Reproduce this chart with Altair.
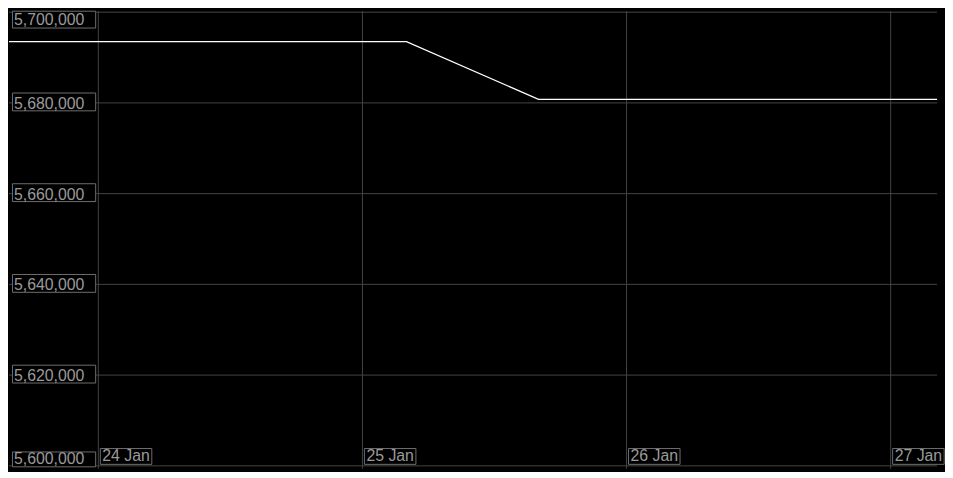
import altair as alt
import pandas as pd

# ---- data ----
times = [
    "2024-01-23T15:50:00Z",
    "2024-01-24T04:00:00Z",
    "2024-01-24T16:00:00Z",
    "2024-01-25T04:00:00Z",
    "2024-01-25T16:00:00Z",
    "2024-01-26T04:00:00Z",
    "2024-01-26T16:00:00Z",
    "2024-01-27T04:20:00Z",
]
values = [5693500, 5693500, 5693500, 5693500, 5680800, 5680800, 5680800, 5680800]

y_ticks = [5600000, 5620000, 5640000, 5660000, 5680000, 5700000]
x_ticks = [
    "2024-01-24T00:00:00Z",
    "2024-01-25T00:00:00Z",
    "2024-01-26T00:00:00Z",
    "2024-01-27T00:00:00Z",
]
x_labels = ["24 Jan", "25 Jan", "26 Jan", "27 Jan"]

line_df = pd.DataFrame({"t": times, "v": values})
ytick_df = pd.DataFrame({"v": y_ticks})
xtick_df = pd.DataFrame({"t": x_ticks, "label": x_labels})

W, H = 937, 462
GRID = "#454545"
BOX = "#6e6e6e"
TXT = "#9a9a9a"
FONT = "Liberation Sans"

xscale = alt.Scale(
    type="utc",
    domain=[
        alt.DateTime(year=2024, month=1, date=23, hours=15, minutes=53, utc=True),
        alt.DateTime(year=2024, month=1, date=27, hours=4, minutes=13, utc=True),
    ],
    range=[0, W],
)
yscale = alt.Scale(domain=[5600000, 5700000], range=[459, 1])

X = alt.X("t:T", scale=xscale, axis=None)
Y = alt.Y("v:Q", scale=yscale, axis=None)

hgrid = alt.Chart(ytick_df).mark_rule(color=GRID, strokeWidth=1).encode(y=Y)
vgrid = alt.Chart(xtick_df).mark_rule(color=GRID, strokeWidth=1).encode(x=X)

line = alt.Chart(line_df).mark_line(color="#ffffff", strokeWidth=1.3, clip=True).encode(x=X, y=Y)


def ybox(filter_expr, y_off, y2_off):
    return (
        alt.Chart(ytick_df)
        .transform_filter(filter_expr)
        .mark_rect(fill="#000000", stroke=BOX, strokeWidth=1, yOffset=y_off, y2Offset=y2_off)
        .encode(x=alt.value(3.5), x2=alt.value(87.5), y=Y, y2=alt.Y2("v:Q"))
    )


def ytext(filter_expr, dy):
    return (
        alt.Chart(ytick_df)
        .transform_filter(filter_expr)
        .mark_text(align="left", baseline="middle", font=FONT, fontSize=16, color=TXT, dy=dy)
        .encode(x=alt.value(5), y=Y, text=alt.Text("v:Q", format=","))
    )


mid = "datum.v > 5600000 && datum.v < 5700000"
top = "datum.v == 5700000"
bot = "datum.v == 5600000"

yboxes = ybox(mid, -10, 8) + ybox(top, -1, 16) + ybox(bot, -14, 1)
ytexts = ytext(mid, 1) + ytext(top, 8) + ytext(bot, -7)

xboxes = (
    alt.Chart(xtick_df)
    .mark_rect(fill="#000000", stroke=BOX, strokeWidth=1, xOffset=2, x2Offset=54)
    .encode(x=X, x2=alt.X2("t:T"), y=alt.value(441.5), y2=alt.value(457.5))
)
xtexts = (
    alt.Chart(xtick_df)
    .mark_text(align="left", baseline="alphabetic", font=FONT, fontSize=16, color=TXT, dx=4)
    .encode(x=X, y=alt.value(454.5), text="label:N")
)

chart = (
    alt.layer(hgrid, vgrid, line, yboxes, ytexts, xboxes, xtexts)
    .properties(width=W, height=H, padding=0, background="#000000")
    .configure_view(strokeWidth=0)
)

chart.save("out.html", embed_options={"renderer": "svg", "actions": False})
